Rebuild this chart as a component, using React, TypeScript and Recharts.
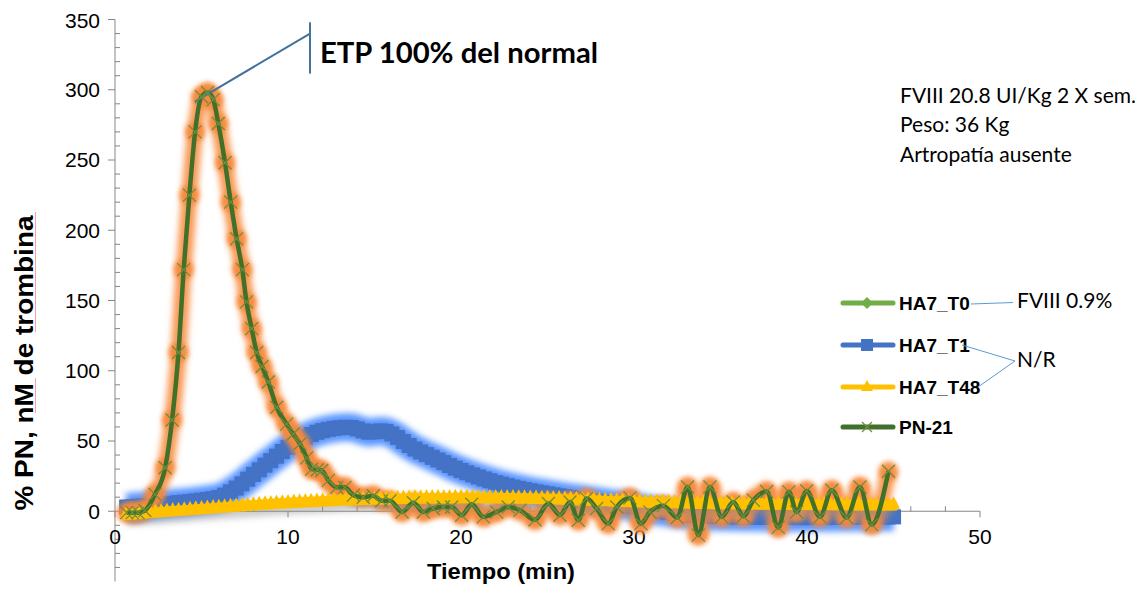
import React from 'react';
import { LineChart, Line, XAxis, YAxis, ReferenceLine, ReferenceDot } from 'recharts';

// thrombin generation readings every 20 s (minutes)
const sampleStart = 0.67;
const sampleStep = 1 / 3;

const t0Values = [
  -0.8, -0.5, -0.2, 0.2, 0.5, 0.8, 1.1, 1.4, 1.7, 2.0,
  2.3, 2.6, 2.9, 3.2, 3.5, 3.8, 4.1, 4.4, 4.7, 5.0,
  5.3, 5.6, 5.9, 6.2, 6.5, 6.8, 7.1, 7.3, 7.5, 7.7,
  7.9, 8.1, 8.3, 8.5, 8.7, 8.9, 9.1, 9.3, 9.5, 9.7,
  9.8, 9.9, 10.0, 10.1, 10.2, 10.3, 10.4, 10.5, 10.6, 10.7,
  10.8, 10.8, 10.9, 10.9, 11.0, 11.0, 11.0, 11.1, 11.1, 11.1,
  11.1, 11.1, 11.1, 11.0, 11.0, 11.0, 10.9, 10.9, 10.8, 10.8,
  10.7, 10.6, 10.5, 10.4, 10.3, 10.2, 10.0, 9.9, 9.7, 9.6,
  9.4, 9.3, 9.1, 9.0, 8.8, 8.7, 8.5, 8.4, 8.2, 8.1,
  8.0, 7.9, 7.8, 7.7, 7.6, 7.5, 7.4, 7.3, 7.2, 7.1,
  7.0, 7.0, 6.9, 6.9, 6.8, 6.8, 6.7, 6.7, 6.6, 6.6,
  6.5, 6.5, 6.5, 6.4, 6.4, 6.4, 6.3, 6.3, 6.3, 6.2,
  6.2, 6.2, 6.2, 6.1, 6.1, 6.1, 6.1, 6.0, 6.0, 6.0,
  6.0, 5.9, 5.9, 5.9,
];

const t1Values = [
  3.0, 3.3, 3.6, 3.9, 4.2, 4.5, 4.9, 5.3, 5.7, 6.1,
  6.5, 6.9, 7.4, 7.9, 8.4, 9.0, 9.8, 11.5, 13.8, 16.5,
  19.5, 22.8, 26.2, 29.5, 32.8, 36.0, 39.2, 42.5, 45.5, 48.3,
  50.8, 52.8, 54.6, 56.2, 57.4, 58.3, 59.0, 59.5, 59.8, 59.6,
  58.6, 57.2, 56.3, 56.5, 57.2, 56.8, 55.0, 52.5, 49.6, 46.8,
  44.3, 42.2, 40.3, 38.4, 36.5, 34.6, 32.6, 30.7, 29.0, 27.4,
  25.9, 24.4, 23.0, 21.7, 20.4, 19.3, 18.2, 17.2, 16.3, 15.4,
  14.6, 13.8, 13.1, 12.4, 11.7, 11.0, 10.4, 9.8, 9.2, 8.6,
  8.0, 7.4, 6.8, 6.2, 5.6, 5.0, 4.4, 3.8, 3.1, 2.4,
  1.7, 1.0, 0.3, -0.4, -1.0, -1.6, -2.1, -2.5, -2.9, -3.2,
  -3.4, -3.6, -3.8, -3.9, -4.0, -4.1, -4.1, -4.2, -4.2, -4.3,
  -4.3, -4.3, -4.4, -4.4, -4.4, -4.4, -4.5, -4.5, -4.5, -4.5,
  -4.5, -4.5, -4.4, -4.4, -4.4, -4.3, -4.3, -4.3, -4.2, -4.2,
  -4.2, -4.1, -4.1, -4.0,
];

const t48Values = [
  -2.0, -1.7, -1.4, -1.0, -0.7, -0.4, -0.1, 0.2, 0.5, 0.8,
  1.1, 1.4, 1.7, 2.0, 2.3, 2.6, 2.9, 3.2, 3.5, 3.8,
  4.1, 4.4, 4.7, 5.0, 5.3, 5.6, 5.9, 6.1, 6.3, 6.5,
  6.7, 6.9, 7.1, 7.3, 7.5, 7.7, 7.9, 8.1, 8.3, 8.5,
  8.6, 8.7, 8.8, 8.9, 9.0, 9.1, 9.2, 9.3, 9.4, 9.5,
  9.6, 9.6, 9.7, 9.7, 9.8, 9.8, 9.8, 9.9, 9.9, 9.9,
  9.9, 9.9, 9.9, 9.8, 9.8, 9.8, 9.7, 9.7, 9.6, 9.6,
  9.5, 9.4, 9.3, 9.2, 9.1, 9.0, 8.8, 8.7, 8.5, 8.4,
  8.2, 8.1, 7.9, 7.8, 7.6, 7.5, 7.3, 7.2, 7.0, 6.9,
  6.8, 6.7, 6.6, 6.5, 6.4, 6.3, 6.2, 6.1, 6.0, 5.9,
  5.8, 5.8, 5.7, 5.7, 5.6, 5.6, 5.5, 5.5, 5.4, 5.4,
  5.3, 5.3, 5.3, 5.2, 5.2, 5.2, 5.1, 5.1, 5.1, 5.0,
  5.0, 5.0, 5.0, 4.9, 4.9, 4.9, 4.9, 4.8, 4.8, 4.8,
  4.8, 4.7, 4.7, 4.7,
];

const pnTimes = [
  0.67, 1.0, 1.33, 1.73, 2.31, 2.9, 3.3, 3.67, 3.97, 4.3,
  4.63, 5.0, 5.35, 5.68, 5.97, 6.36, 6.69, 7.03, 7.36, 7.6,
  7.9, 8.19, 8.5, 8.86, 9.35, 9.92, 10.3, 10.69, 11.08, 11.37,
  11.7, 11.95, 12.33, 12.81, 13.29, 13.78, 14.35, 14.93, 15.41, 15.9,
  16.6, 17.25, 17.82, 18.4, 18.98, 19.46, 20.04, 20.62, 21.29, 22.06,
  22.73, 23.41, 24.28, 25.05, 25.72, 26.3, 26.78, 27.26, 27.84, 28.51,
  29.0, 29.77, 30.4, 30.92, 31.7, 32.5, 33.1, 33.72, 34.39, 35.07,
  35.74, 36.32, 36.9, 37.67, 38.34, 38.95, 39.4, 39.98, 40.75, 41.43,
  42.29, 43.06, 43.74, 44.71,
];

const pnValues = [
  -1, -1, -1, 0.5, 12, 31, 65, 113, 172, 225,
  270, 295, 298, 293, 276, 248, 220, 194, 172, 149,
  130, 113, 103, 92, 74, 62, 55, 48, 38, 30,
  29.5, 29, 22, 17, 17, 11.5, 10, 11, 7.5, 7.5,
  -0.5, 6, -0.5, 2, 3, 3, -2.8, 5, -4, -0.5,
  3, 0.7, -6, 5.5, -2.8, 6.6, -6.4, 9, 2, -8.8,
  3, 9.5, -8.8, -0.5, 4, -4.5, 17.3, -17, 17.3, -4,
  6.6, -3.5, 7.8, 14, -11.5, 13.8, -0.5, 14.5, -4, 15,
  -4.5, 17.3, -9.5, 28.5,
];

const seriesNames = ['HA7_T0', 'HA7_T1', 'HA7_T48', 'PN-21'];
const yTicks = [-50, 0, 50, 100, 150, 200, 250, 300, 350];
const yMinorTicks = [
  -40, -30, -20, -10, 10, 20, 30, 40, 60, 70, 80, 90, 110, 120, 130, 140,
  160, 170, 180, 190, 210, 220, 230, 240, 260, 270, 280, 290, 310, 320, 330, 340,
];
const xTicks = [0, 10, 20, 30, 40, 50];
const xMinorTicks = [2, 4, 6, 8, 12, 14, 16, 18, 22, 24, 26, 28, 32, 34, 36, 38, 42, 44, 46, 48];

const toRows = (values: number[]) => values.map((v, i) => ({ t: sampleStart + i * sampleStep, v }));
const t0Rows = toRows(t0Values);
const t1Rows = toRows(t1Values);
const t48Rows = toRows(t48Values);
const pnRows = pnTimes.map((t, i) => ({ t, v: pnValues[i] }));

const ARIAL = '"Liberation Sans", Arial, sans-serif';
const CALIBRI = 'Lato, "Open Sans", sans-serif';
const AXIS_GREY = '#868686';

const C_T0 = '#70AD47';
const C_T1 = '#4472C4';
const C_T48 = '#FFC000';
const C_PN = '#40702A';

const CHART_W = 1135;
const CHART_H = 582;
const plotMargin = { top: 11.5, right: 163, bottom: 8.5, left: 107 };
const X_DOMAIN: [number, number] = [0, 50];
const Y_DOMAIN: [number, number] = [-50, 350];

const empty = (p: any) => <g key={`e-${p.index}`} />;

const squareDot = (p: any) =>
  p.cx == null ? empty(p) : (
    <rect key={`s-${p.index}`} x={p.cx - 7.5} y={p.cy - 7.5} width={15} height={15} fill={C_T1} />
  );

// triangle marker sitting on a short piece of ribbon so the series reads as a solid band
const triangleDot = (p: any) =>
  p.cx == null ? empty(p) : (
    <g key={`tr-${p.index}`} fill={C_T48}>
      <rect x={p.cx - 3.5} y={p.cy - 3} width={7} height={9} />
      <path d={`M${p.cx},${p.cy - 8.5}L${p.cx + 6.5},${p.cy + 4}L${p.cx - 6.5},${p.cy + 4}Z`} />
    </g>
  );

const glowDot = (p: any) =>
  p.cx == null ? empty(p) : (
    <circle key={`g-${p.index}`} cx={p.cx} cy={p.cy} r={10} fill="#F7883A" fillOpacity={0.9} filter="url(#dotBlur)" />
  );

const crossDot = (p: any) =>
  p.cx == null ? empty(p) : (
    <g key={`x-${p.index}`} stroke="#6F8D3E" strokeWidth={1.3}>
      <line x1={p.cx - 6.5} y1={p.cy - 6.5} x2={p.cx + 6.5} y2={p.cy + 6.5} />
      <line x1={p.cx - 6.5} y1={p.cy + 6.5} x2={p.cx + 6.5} y2={p.cy - 6.5} />
    </g>
  );

const yMinorShape = (p: any) => <line x1={p.cx} y1={p.cy} x2={p.cx + 5} y2={p.cy} stroke={AXIS_GREY} strokeWidth={1} />;
const xMinorShape = (p: any) => <line x1={p.cx} y1={p.cy - 5} x2={p.cx} y2={p.cy} stroke={AXIS_GREY} strokeWidth={1} />;
const xMajorShape = (label: number) => (p: any) => (
  <g>
    <line x1={p.cx} y1={p.cy} x2={p.cx} y2={p.cy + 6} stroke={AXIS_GREY} strokeWidth={1} />
    <text x={p.cx} y={p.cy + 33} textAnchor="middle" fontFamily={ARIAL} fontSize={21} fill="#000">
      {label}
    </text>
  </g>
);

// extra chart stacked on the base one (same scales) so series paint in Excel's order
function SeriesLayer({ children }: { children: React.ReactNode }) {
  return (
    <div style={{ position: 'absolute', left: 0, top: 0 }}>
      <LineChart width={CHART_W} height={CHART_H} margin={plotMargin}>
        <XAxis type="number" dataKey="t" domain={X_DOMAIN} hide />
        <YAxis type="number" domain={Y_DOMAIN} hide />
        {children}
      </LineChart>
    </div>
  );
}

function LegendItem({ y, name, color, marker }: { y: number; name: string; color: string; marker: string }) {
  const cx = 867;
  let m: React.ReactNode = null;
  if (marker === 'diamond') m = <path d={`M${cx},${y - 6}L${cx + 6},${y}L${cx},${y + 6}L${cx - 6},${y}Z`} fill={color} />;
  if (marker === 'square') m = <rect x={cx - 6} y={y - 6} width={12} height={12} fill={color} />;
  if (marker === 'triangle') m = <path d={`M${cx},${y - 7}L${cx + 6},${y + 4}L${cx - 6},${y + 4}Z`} fill={color} />;
  if (marker === 'cross')
    m = (
      <g stroke="#6F8D3E" strokeWidth={1.2}>
        <line x1={cx - 5} y1={y - 5} x2={cx + 5} y2={y + 5} />
        <line x1={cx - 5} y1={y + 5} x2={cx + 5} y2={y - 5} />
      </g>
    );
  return (
    <g>
      <line x1={843} y1={y} x2={893} y2={y} stroke={color} strokeWidth={5} strokeLinecap="round" />
      {m}
      <text x={899} y={y + 7} fontFamily={ARIAL} fontWeight="bold" fontSize={19} fill="#000">
        {name}
      </text>
    </g>
  );
}

export default function App() {
  return (
    <div style={{ position: 'relative', width: CHART_W, height: CHART_H }}>
      <style>{`
        .glow-soft { filter: url(#softBlur); }
        .shadow-grey { filter: url(#softBlur); transform: translate(1px, 6px); }
      `}</style>
      <svg width={0} height={0} style={{ position: 'absolute' }}>
        <defs>
          <filter id="softBlur" filterUnits="userSpaceOnUse" x={-100} y={-100} width={1400} height={800}>
            <feGaussianBlur stdDeviation={3} />
          </filter>
          <filter id="dotBlur" x="-100%" y="-100%" width="300%" height="300%">
            <feGaussianBlur stdDeviation={2.6} />
          </filter>
        </defs>
      </svg>

      <div style={{ position: 'absolute', left: 0, top: 0 }}>
        <LineChart width={CHART_W} height={CHART_H} margin={{ ...plotMargin, left: 0 }}>
          <XAxis type="number" dataKey="t" domain={X_DOMAIN} ticks={xTicks} hide />
          <YAxis
            type="number"
            domain={Y_DOMAIN}
            ticks={yTicks}
            width={107}
            axisLine={{ stroke: AXIS_GREY }}
            tickLine={{ stroke: AXIS_GREY }}
            tickSize={7}
            tickMargin={8}
            tick={{ fontFamily: ARIAL, fontSize: 21, fill: '#000' }}
          />
          <ReferenceLine y={0} stroke={AXIS_GREY} strokeWidth={1} />
          {yMinorTicks.map((v) => (
            <ReferenceDot key={`ym${v}`} x={0} y={v} r={0} shape={yMinorShape} />
          ))}
          {xMinorTicks.map((t) => (
            <ReferenceDot key={`xm${t}`} x={t} y={0} r={0} shape={xMinorShape} />
          ))}
          {xTicks.map((t) => (
            <ReferenceDot key={`xM${t}`} x={t} y={0} r={0} shape={xMajorShape(t)} />
          ))}
          <Line data={t0Rows} dataKey="v" name={seriesNames[0]} type="monotone" stroke={C_T0} strokeWidth={2} dot={false} isAnimationActive={false} />
          <Line data={t1Rows} dataKey="v" className="glow-soft" type="monotone" stroke="#2F7BFF" strokeOpacity={0.8} strokeWidth={28} dot={false} isAnimationActive={false} legendType="none" />
          <Line data={t1Rows} dataKey="v" name={seriesNames[1]} type="monotone" stroke={C_T1} strokeWidth={6} dot={squareDot} isAnimationActive={false} />
        </LineChart>
      </div>

      <SeriesLayer>
        <Line data={pnRows} dataKey="v" className="glow-soft" type="monotone" stroke="#F7883A" strokeOpacity={0.85} strokeWidth={16} dot={glowDot} isAnimationActive={false} legendType="none" />
      </SeriesLayer>

      <SeriesLayer>
        <Line data={t48Rows} dataKey="v" className="shadow-grey" type="monotone" stroke="#8C8C8C" strokeOpacity={0.45} strokeWidth={12} dot={false} isAnimationActive={false} legendType="none" />
        <Line data={t48Rows} dataKey="v" name={seriesNames[2]} type="monotone" stroke={C_T48} strokeWidth={9} dot={triangleDot} isAnimationActive={false} />
      </SeriesLayer>

      <SeriesLayer>
        <Line data={pnRows} dataKey="v" name={seriesNames[3]} type="monotone" stroke={C_PN} strokeWidth={4.5} dot={crossDot} isAnimationActive={false} />
        <ReferenceLine segment={[{ x: 4.62, y: 291.5 }, { x: 11.27, y: 340 }]} stroke="#41719C" strokeWidth={2} ifOverflow="visible" />
        <ReferenceLine segment={[{ x: 11.27, y: 348 }, { x: 11.27, y: 311.5 }]} stroke="#41719C" strokeWidth={2} ifOverflow="visible" />
      </SeriesLayer>

      <svg width={1143} height={590} style={{ position: 'absolute', left: -8, top: -8, pointerEvents: 'none' }}>
        <text x={320} y={63} fontFamily={CALIBRI} fontWeight="bold" fontSize={28} fill="#000" textLength={278} lengthAdjust="spacingAndGlyphs">
          ETP 100% del normal
        </text>

        <text fontFamily={CALIBRI} fontSize={21} fill="#000">
          <tspan x={900} y={103}>FVIII 20.8 UI/Kg 2 X sem.</tspan>
          <tspan x={900} y={132}>Peso: 36 Kg</tspan>
          <tspan x={900} y={162}>Artropatía ausente</tspan>
        </text>

        <LegendItem y={303} name={seriesNames[0]} color={C_T0} marker="diamond" />
        <LegendItem y={345} name={seriesNames[1]} color={C_T1} marker="square" />
        <LegendItem y={387} name={seriesNames[2]} color={C_T48} marker="triangle" />
        <LegendItem y={427} name={seriesNames[3]} color={C_PN} marker="cross" />

        <line x1={971} y1={304} x2={1013} y2={302.5} stroke="#5B9BD5" strokeWidth={1} />
        <text x={1017} y={308} fontFamily={CALIBRI} fontSize={21} fill="#000">FVIII 0.9%</text>
        <line x1={962} y1={345} x2={1015} y2={361} stroke="#5B9BD5" strokeWidth={1} />
        <line x1={978} y1={387} x2={1015} y2={361} stroke="#5B9BD5" strokeWidth={1} />
        <text x={1017} y={367} fontFamily={CALIBRI} fontSize={21} fill="#000">N/R</text>

        <text x={427} y={579} fontFamily={ARIAL} fontWeight="bold" fontSize={22.5} fill="#000" textLength={148} lengthAdjust="spacingAndGlyphs">
          Tiempo (min)
        </text>

        <text
          x={33}
          y={363}
          transform="rotate(-90 33 363)"
          textAnchor="middle"
          fontFamily={ARIAL}
          fontWeight="bold"
          fontSize={25}
          fill="#000"
          textLength={295}
          lengthAdjust="spacingAndGlyphs"
        >
          % PN, nM de trombina
        </text>
        <line x1={35.5} y1={378} x2={35.5} y2={413} stroke="#F4A3A3" strokeWidth={1} />
        <line x1={35.5} y1={212} x2={35.5} y2={332} stroke="#F4A3A3" strokeWidth={1} />
      </svg>
    </div>
  );
}
